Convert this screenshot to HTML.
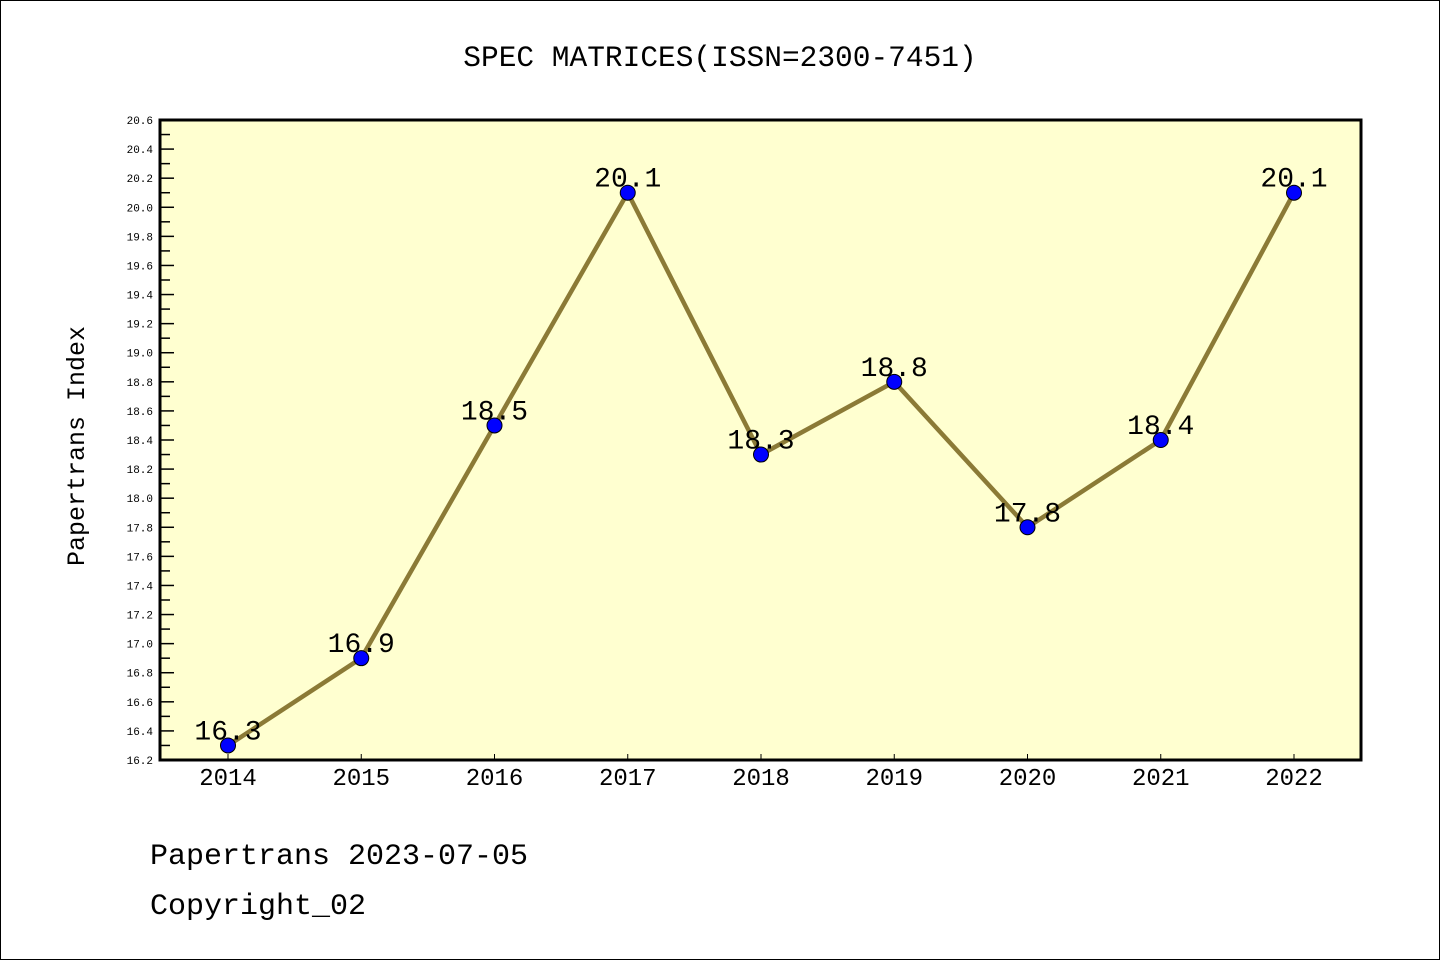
<!DOCTYPE html>
<html><head><meta charset="utf-8"><style>
html,body{margin:0;padding:0;background:#fff}
svg text{font-family:"Liberation Mono","DejaVu Sans Mono",monospace}
</style></head><body>
<svg id="c" width="1440" height="960" xmlns="http://www.w3.org/2000/svg">
<rect x="0.5" y="0.5" width="1439" height="959" fill="#fff" stroke="#000"/>
<text x="720" y="66" font-size="29.5" text-anchor="middle">SPEC MATRICES(ISSN=2300-7451)</text>
<rect x="160" y="120" width="1201" height="640" fill="#ffffd0"/>
<g id="g"></g>
<rect x="160" y="120" width="1201" height="640" fill="none" stroke="#000" stroke-width="3"/>
<text transform="translate(84,446) rotate(-90)" font-size="25" text-anchor="middle">Papertrans Index</text>
<text x="150" y="864" font-size="30">Papertrans 2023-07-05</text>
<text x="150" y="914" font-size="30">Copyright_02</text>
</svg>
<script>
const years=["2014","2015","2016","2017","2018","2019","2020","2021","2022"];
const values=[16.3,16.9,18.5,20.1,18.3,18.8,17.8,18.4,20.1];
const yTicks=["16.2","16.4","16.6","16.8","17.0","17.2","17.4","17.6","17.8","18.0","18.2","18.4","18.6","18.8","19.0","19.2","19.4","19.6","19.8","20.0","20.2","20.4","20.6"];
const yMin=16.2,yMax=20.6;
const NS="http://www.w3.org/2000/svg";
const g=document.getElementById('g');
function y(v){return 760-(v-yMin)/(yMax-yMin)*640;}
function x(i){return 228+i*(1294-228)/(years.length-1);}
function mk(t,a){const e=document.createElementNS(NS,t);for(const k in a)e.setAttribute(k,a[k]);g.appendChild(e);return e;}
yTicks.forEach((t,i)=>{
  const v=parseFloat(t),yy=y(v);
  const l=mk('line',{x1:160,x2:174,y1:yy,y2:yy,stroke:'#000','stroke-width':1.5});
  
  
  if(i<yTicks.length-1){const ym=y(v+0.1);
    const m=mk('line',{x1:160,x2:170,y1:ym,y2:ym,stroke:'#000','stroke-width':1.5});
    
    }
  const tx=mk('text',{x:153,y:yy+4,'font-size':11,'text-anchor':'end'});tx.textContent=t;
  
  
});
years.forEach((yr,i)=>{
  const l=mk('line',{x1:x(i),x2:x(i),y1:760,y2:754,stroke:'#000','stroke-width':1});
  
  
  const t=mk('text',{x:x(i),y:785,'font-size':24,'text-anchor':'middle'});t.textContent=yr;
  
  
});
const pl=mk('polyline',{points:values.map((v,i)=>x(i)+','+y(v)).join(' '),fill:'none',stroke:'#8b7a36','stroke-width':4.5});


values.forEach((v,i)=>{
  const c=mk('circle',{cx:x(i),cy:y(v),r:7.5,fill:'#0000ff',stroke:'#000','stroke-width':1});
  
  
  const t=mk('text',{x:x(i),y:y(v)-6,'font-size':28,'text-anchor':'middle'});t.textContent=v.toFixed(1);
  
  
});
</script>
</body></html>
